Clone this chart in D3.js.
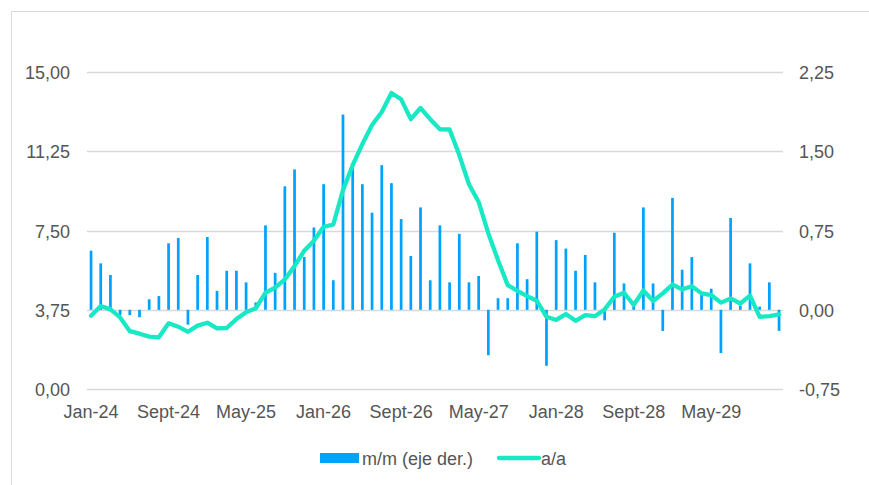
<!DOCTYPE html>
<html>
<head>
<meta charset="utf-8">
<script src="https://cdn.jsdelivr.net/npm/d3@7"></script>
<style>
  body { margin: 0; background: #fff; }
  svg { display: block; font-family: "Liberation Sans", Arial, Helvetica, sans-serif; }
</style>
</head>
<body>
<script>
// categories: months Jan-24 .. Dec-29
var monthNames = ["Jan","Feb","Mar","Apr","May","Jun","Jul","Aug","Sept","Oct","Nov","Dec"];
var years = ["24","25","26","27","28","29"];
var months = [];
years.forEach(function(y){ monthNames.forEach(function(m){ months.push(m + "-" + y); }); });

// m/m (eje der.) - bars, right axis
var mm = [
  0.56, 0.44, 0.33, -0.05, -0.05, -0.07, 0.10, 0.13, 0.63, 0.68, -0.14, 0.33,
  0.69, 0.18, 0.37, 0.37, 0.26, 0.07, 0.80, 0.35, 1.17, 1.33, 0.50, 0.78,
  1.19, 0.28, 1.85, 1.39, 1.19, 0.92, 1.37, 1.20, 0.86, 0.51, 0.97, 0.28,
  0.80, 0.26, 0.72, 0.26, 0.32, -0.43, 0.11, 0.11, 0.63, 0.29, 0.74, -0.53,
  0.66, 0.58, 0.37, 0.52, 0.26, -0.10, 0.73, 0.25, 0.05, 0.97, 0.25, -0.20,
  1.06, 0.38, 0.50, 0.15, 0.20, -0.41, 0.87, 0.04, 0.44, 0.03, 0.26, -0.20
];

// a/a - line, left axis
var aa = [
  3.47, 3.93, 3.77, 3.39, 2.74, 2.62, 2.48, 2.45, 3.11, 2.95, 2.71, 3.00,
  3.14, 2.87, 2.89, 3.31, 3.64, 3.82, 4.56, 4.80, 5.19, 5.82, 6.55, 7.02,
  7.68, 7.79, 9.42, 10.6, 11.6, 12.5, 13.12, 14.02, 13.72, 12.78, 13.31, 12.78,
  12.3, 12.29, 11.08, 9.7, 8.86, 7.37, 6.10, 4.92, 4.65, 4.40, 4.18, 3.42,
  3.27, 3.55, 3.23, 3.50, 3.45, 3.77, 4.37, 4.56, 3.98, 4.67, 4.17, 4.53,
  4.95, 4.72, 4.87, 4.53, 4.45, 4.09, 4.29, 4.05, 4.42, 3.42, 3.45, 3.53
];

var leftTicks = [0, 3.75, 7.5, 11.25, 15];
var rightTicks = [-0.75, 0, 0.75, 1.5, 2.25];
var tickEvery = 8;

var W = 869, H = 485;
var plot = { left: 86.2, right: 783.9, top: 72.3, bottom: 389 };

var locale = d3.formatLocale({ decimal: ",", thousands: ".", grouping: [3], currency: ["", ""], minus: "-" });
var fmt = locale.format(".2f");

var svg = d3.select("body").append("svg").attr("width", W).attr("height", H);

// frame
svg.append("path")
  .attr("d", "M11.5," + H + " L11.5,11.5 L" + W + ",11.5")
  .style("fill", "none").style("stroke", "#d9d9d9").style("stroke-width", 1);

var x = d3.scaleBand().domain(months).range([plot.left, plot.right]).paddingInner(0.72).paddingOuter(0.36);
var xc = function(m){ return x(m) + x.bandwidth() / 2; };
var yL = d3.scaleLinear().domain([0, 15]).range([plot.bottom, plot.top]);
var yR = d3.scaleLinear().domain([-0.75, 2.25]).range([plot.bottom, plot.top]);

// gridlines
svg.append("g").selectAll("line").data(leftTicks).enter().append("line")
  .attr("x1", 87).attr("x2", 783)
  .attr("y1", function(d){ return Math.round(yL(d)) + 0.5; })
  .attr("y2", function(d){ return Math.round(yL(d)) + 0.5; })
  .style("stroke", "#d9d9d9").style("stroke-width", 1.3);

// left axis labels
svg.append("g").selectAll("text").data(leftTicks).enter().append("text")
  .attr("x", 70).attr("y", function(d){ return yL(d) + 7; })
  .attr("text-anchor", "end")
  .style("font-size", "18px").style("fill", "#555")
  .text(function(d){ return fmt(d); });

// right axis labels
svg.append("g").selectAll("text").data(rightTicks).enter().append("text")
  .attr("x", 799).attr("y", function(d){ return yR(d) + 7; })
  .attr("text-anchor", "start")
  .style("font-size", "18px").style("fill", "#555")
  .text(function(d){ return fmt(d); });

// x labels
svg.append("g").selectAll("text").data(months.filter(function(d, i){ return i % tickEvery === 0; })).enter().append("text")
  .attr("x", function(d){ return xc(d); }).attr("y", 418)
  .attr("text-anchor", "middle")
  .style("font-size", "18px").style("fill", "#555")
  .text(function(d){ return d; });

var barColor = "#00a2ff", lineColor = "#19e8c5";

// bars
svg.append("g").selectAll("rect").data(mm).enter().append("rect")
  .attr("x", function(d, i){ return x(months[i]); })
  .attr("width", x.bandwidth())
  .attr("y", function(d){ return Math.min(yR(d), yR(0)); })
  .attr("height", function(d){ return Math.abs(yR(d) - yR(0)); })
  .style("fill", barColor);

// line
var line = d3.line().x(function(d, i){ return xc(months[i]); }).y(function(d){ return yL(d); });
svg.append("path").datum(aa).attr("d", line)
  .style("fill", "none").style("stroke", lineColor).style("stroke-width", 4.3)
  .style("stroke-linejoin", "round").style("stroke-linecap", "round");

// legend
var lg = svg.append("g");
lg.append("rect").attr("x", 320).attr("y", 453).attr("width", 39).attr("height", 10).style("fill", barColor);
lg.append("text").attr("x", 362).attr("y", 465).style("font-size", "18px").style("fill", "#555").text("m/m (eje der.)");
lg.append("line").attr("x1", 499).attr("x2", 539).attr("y1", 458).attr("y2", 458)
  .style("stroke", lineColor).style("stroke-width", 4.3).style("stroke-linecap", "round");
lg.append("text").attr("x", 541).attr("y", 465).style("font-size", "18px").style("fill", "#555").text("a/a");
</script>
</body>
</html>
